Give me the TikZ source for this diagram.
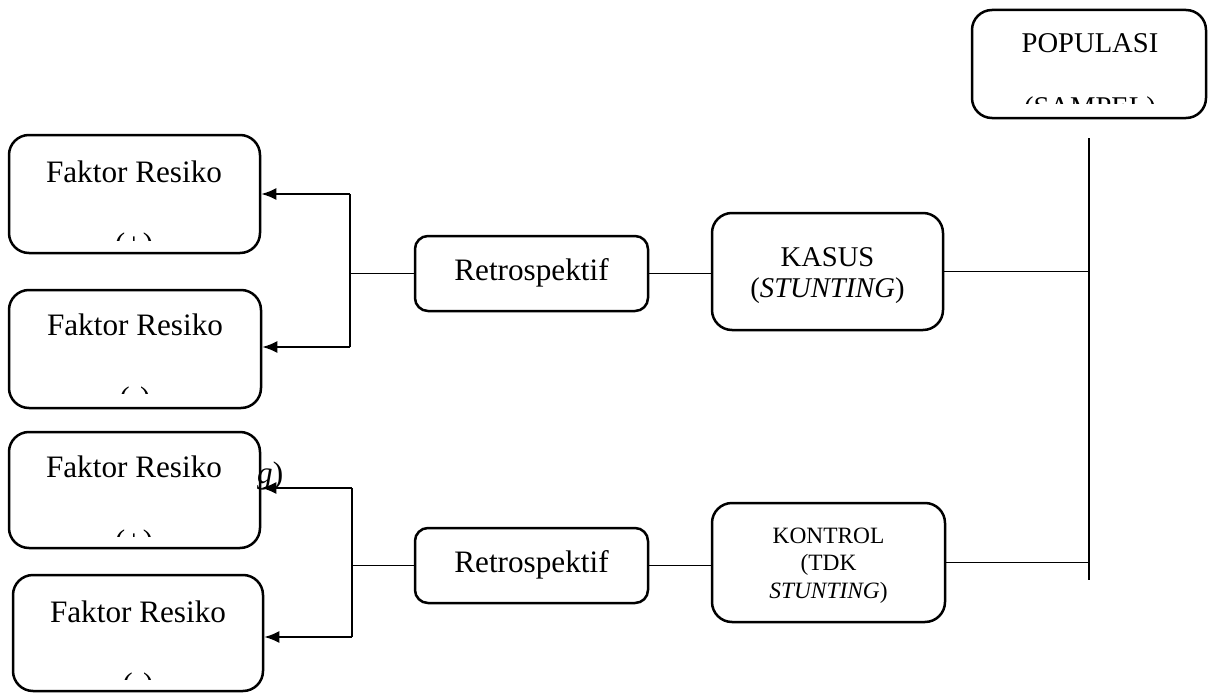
\documentclass[tikz,border=0pt]{standalone}
\usepackage{fontspec}
\setmainfont{Liberation Serif}
\usetikzlibrary{arrows.meta}
\begin{document}
\begin{tikzpicture}[x=1pt,y=-1pt,
  rbox/.style={draw,line width=2.5pt,rounded corners=20pt,inner sep=0pt},
  sbox/.style={draw,line width=2.5pt,rounded corners=13pt,inner sep=0pt},
  txt/.style={anchor=base,inner sep=0pt,font=\fontsize{31.2}{36}\selectfont},
  mtxt/.style={anchor=base,inner sep=0pt,font=\fontsize{28.6}{33}\selectfont},
  stxt/.style={anchor=base,inner sep=0pt,font=\fontsize{23.4}{27}\selectfont},
  thin/.style={line width=1.3pt},
  arr/.style={line width=2pt,-{Latex[length=15pt,width=12pt]}}]
\useasboundingbox (0,0) rectangle (1211,693);
\fill[white] (0,0) rectangle (1211,693);
% boxes
\node[rbox,minimum width=234pt,minimum height=108pt] (pop) at (1089,64) {};
\node[rbox,minimum width=251pt,minimum height=118pt] (b1) at (134.5,194) {};
\node[rbox,minimum width=252pt,minimum height=118pt] (b2) at (135,349) {};
\node[rbox,minimum width=251pt,minimum height=116pt] (b3) at (134.5,490) {};
\node[rbox,minimum width=250pt,minimum height=116pt] (b4) at (138,633) {};
\node[sbox,minimum width=233pt,minimum height=75pt] (r1) at (531.5,273.5) {};
\node[sbox,minimum width=233pt,minimum height=75pt] (r2) at (531.5,565.5) {};
\node[rbox,minimum width=231pt,minimum height=117pt] (kasus) at (827.5,271.5) {};
\node[rbox,minimum width=233pt,minimum height=119pt] (kontrol) at (828.5,562.5) {};
% texts
\node[mtxt] (tpop) at (1090,53) {POPULASI};
\begin{scope}
\clip (975,60) rectangle (1203,104);
\node[mtxt] (tsam) at (1090,117) {(SAMPEL)};
\end{scope}
\node[txt] (t1) at (134,182) {Faktor Resiko};
\node[txt] (t2) at (135,335) {Faktor Resiko};
\node[txt] (t3) at (134,477) {Faktor Resiko};
\node[txt] (t4) at (138,622) {Faktor Resiko};
\begin{scope}
\clip (12,190) rectangle (257,240);
\node[txt] (p1) at (134,254) {(+)};
\end{scope}
\begin{scope}
\clip (12,340) rectangle (257,393);
\node[txt] (p2) at (135,408) {(-)};
\end{scope}
\begin{scope}
\clip (12,480) rectangle (257,536);
\node[txt] (p3) at (134,551) {(+)};
\end{scope}
\begin{scope}
\clip (16,625) rectangle (260,679);
\node[txt] (p4) at (138,694) {(-)};
\end{scope}
\node[txt,anchor=base west] (gg) at (257,483) {\textit{g})};
\node[txt] (tr1) at (531.5,280) {Retrospektif};
\node[txt] (tr2) at (531.5,572) {Retrospektif};
\node[mtxt] (tk1) at (827.5,266) {KASUS};
\node[mtxt] (tk2) at (827.5,297) {(\textit{STUNTING})};
\node[stxt] (tc1) at (828.5,543) {KONTROL};
\node[stxt] (tc2) at (828.5,570) {(TDK};
\node[stxt] (tc3) at (828.5,598) {\textit{STUNTING})};
% connectors
\coordinate (vtop) at (1089,138);
\coordinate (vbot) at (1089,580);
\draw[thin] (vtop) -- (vbot);
\draw[thin] (kasus.east) -- (kasus.east -| vtop);
\draw[thin] (kontrol.east) -- (kontrol.east -| vtop);
\draw[thin] (r1.east) -- (r1.east -| kasus.west);
\draw[thin] (r2.east) -- (r2.east -| kontrol.west);
\coordinate (jt1) at (350,194);
\coordinate (jb1) at (350,347);
\coordinate (jt2) at (352,488);
\coordinate (jb2) at (352,637);
\draw[thin] (jt1) -- (jb1);
\draw[thin] (jt2) -- (jb2);
\draw[thin] (r1.west) -- (r1.west -| jt1);
\draw[thin] (r2.west) -- (r2.west -| jt2);
\draw[arr] (jt1) -- (jt1 -| b1.east);
\draw[arr] (jb1) -- (jb1 -| b2.east);
\draw[arr] (jt2) -- (jt2 -| b3.east);
\draw[arr] (jb2) -- (jb2 -| b4.east);
\end{tikzpicture}
\end{document}
